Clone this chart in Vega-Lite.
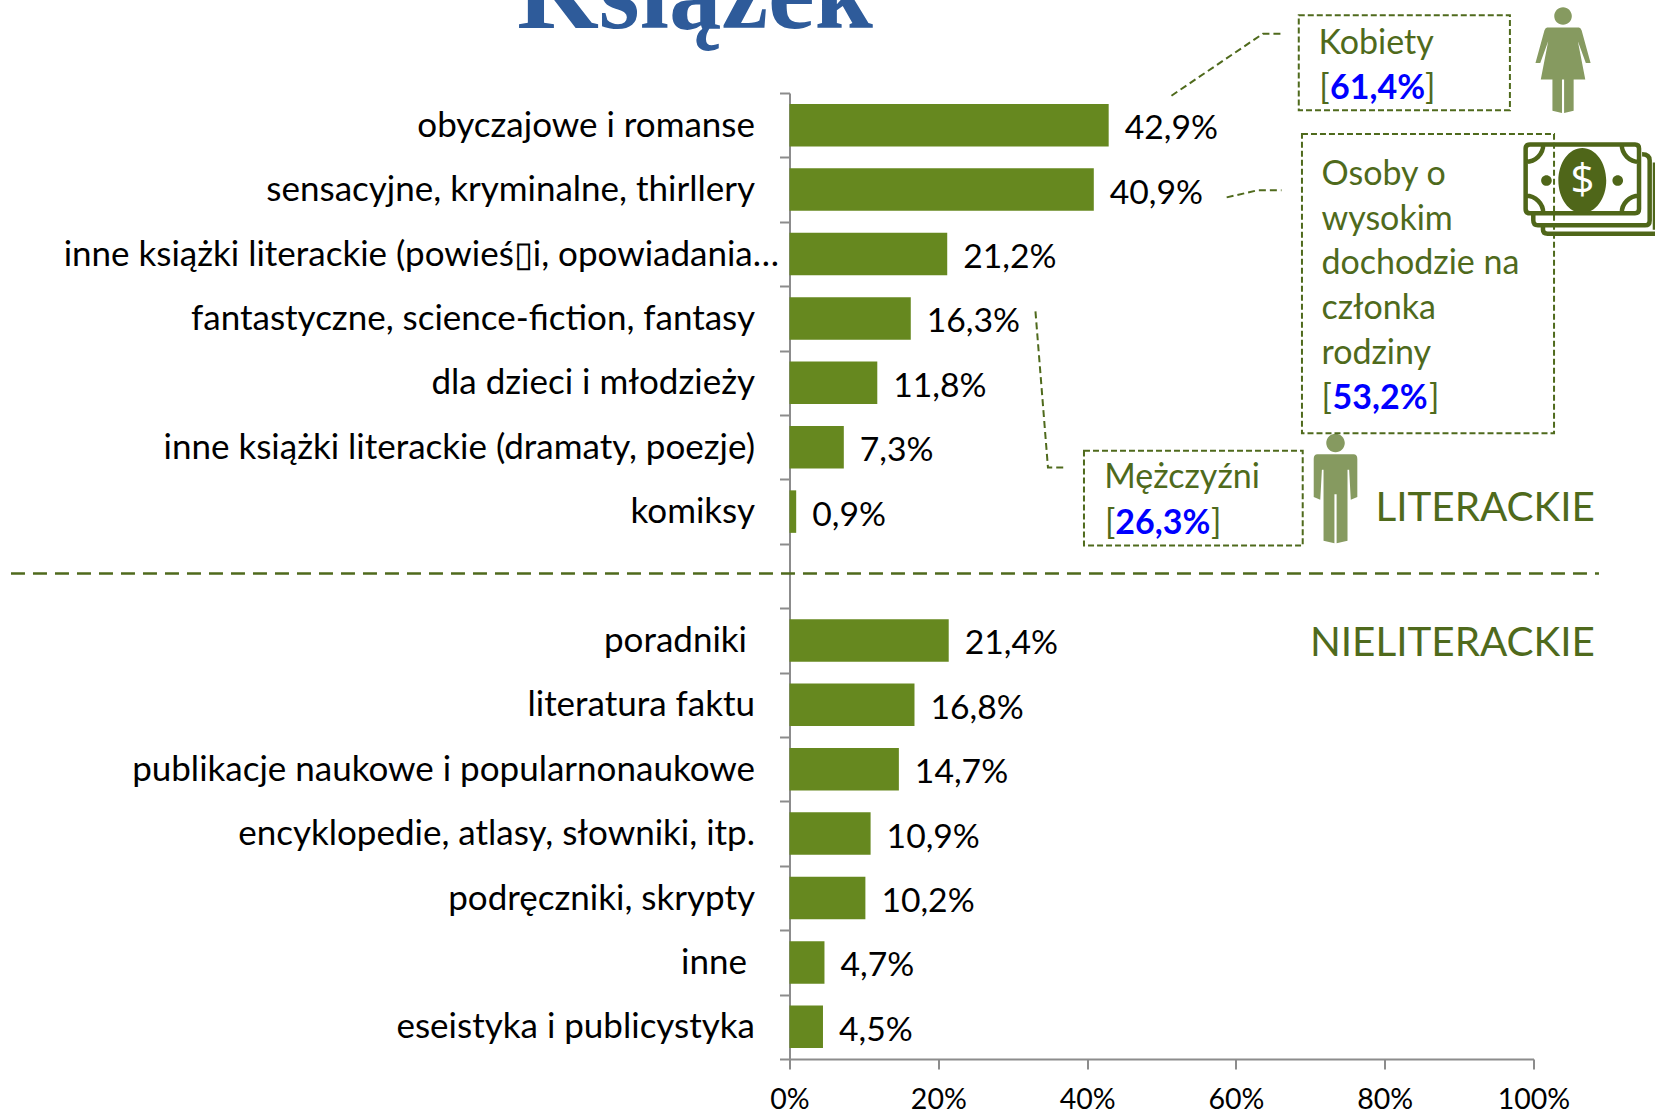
{
"$schema":"https://vega.github.io/schema/vega-lite/v6.json",
"autosize":"none",
"padding":{"left":789.5,"top":93,"right":121.5,"bottom":54},
"width":744,"height":966,
"background":"white",
"config":{"view":{"stroke":null},"text":{"font":"Lato"}},
"resolve":{"scale":{"y":"independent"}},
"layer":[
{"data":{"values":[
{"cat":"obyczajowe i romanse","value":42.9,"label":"42,9%"},
{"cat":"sensacyjne, kryminalne, thirllery","value":40.9,"label":"40,9%"},
{"cat":"inne książki literackie (powieś▯i, opowiadania…","value":21.2,"label":"21,2%"},
{"cat":"fantastyczne, science-fiction, fantasy","value":16.3,"label":"16,3%"},
{"cat":"dla dzieci i młodzieży","value":11.8,"label":"11,8%"},
{"cat":"inne książki literackie (dramaty, poezje)","value":7.3,"label":"7,3%"},
{"cat":"komiksy","value":0.9,"label":"0,9%"},
{"cat":"poradniki","value":21.4,"label":"21,4%"},
{"cat":"literatura faktu","value":16.8,"label":"16,8%"},
{"cat":"publikacje naukowe i popularnonaukowe","value":14.7,"label":"14,7%"},
{"cat":"encyklopedie, atlasy, słowniki, itp.","value":10.9,"label":"10,9%"},
{"cat":"podręczniki, skrypty","value":10.2,"label":"10,2%"},
{"cat":"inne","value":4.7,"label":"4,7%"},
{"cat":"eseistyka i publicystyka","value":4.5,"label":"4,5%"}
]},
"encoding":{
"y":{"field":"cat","type":"nominal","title":null,
"scale":{"domain":["obyczajowe i romanse","sensacyjne, kryminalne, thirllery","inne książki literackie (powieś▯i, opowiadania…","fantastyczne, science-fiction, fantasy","dla dzieci i młodzieży","inne książki literackie (dramaty, poezje)","komiksy"," ","poradniki","literatura faktu","publikacje naukowe i popularnonaukowe","encyklopedie, atlasy, słowniki, itp.","podręczniki, skrypty","inne","eseistyka i publicystyka"],"paddingInner":0,"paddingOuter":0},
"axis":{"tickBand":"extent","tickSize":10,"tickWidth":2,"tickColor":"#8C8C8C","domainColor":"#8C8C8C","domainWidth":2,"labelPadding":25,"labelFont":"Lato","labelFontSize":35,"labelColor":"black","labelLimit":800,"grid":false,
"encoding":{"labels":{"dx":{"value":{"expr":"datum.value==='poradniki'||datum.value==='inne'?-8:(datum.value==='inne książki literackie (powieś▯i, opowiadania…'?24:0)"}}}}}},
"x":{"field":"value","type":"quantitative","title":null,
"scale":{"domain":[0,100],"nice":false},
"axis":{"values":[0,20,40,60,80,100],"labelExpr":"datum.value+'%'","labelFlush":false,"tickSize":10,"tickWidth":2,"tickColor":"#8C8C8C","domainColor":"#8C8C8C","domainWidth":2,"labelPadding":16,"labelFont":"Lato","labelFontSize":28.5,"labelColor":"black","grid":false}}
},
"layer":[
{"mark":{"type":"bar","color":"#66881F","size":42.5}},
{"mark":{"type":"text","align":"left","baseline":"middle","dx":16,"dy":4,"fontSize":33.7,"color":"black"},"encoding":{"text":{"field":"label"}}}
]},
{"encoding":{
"x":{"field":"x","type":"quantitative","title":null},
"y":{"field":"y","type":"quantitative","title":null,"axis":null,"scale":{"domain":[0,15],"reverse":true,"nice":false,"zero":false}}},
"layer":[
{"data":{"values":[{"t":"Książek","x":-36.6,"y":-1.009}]},
"mark":{"type":"text","align":"left","baseline":"alphabetic","fontSize":105,"font":"Liberation Serif","fontWeight":"bold","color":"#2E5B9A"},
"encoding":{"text":{"field":"t"}}},
{"data":{"values":[{"x":-104.64,"x2":108.8,"y":7.46}]},
"mark":{"type":"rule","color":"#4F6A1C","strokeWidth":2.5,"strokeDash":[14,8]},
"encoding":{"x2":{"field":"x2"}}},
{"data":{"values":[{"x":103.97,"y":-0.514}]},
"mark":{"type":"point","filled":true,"opacity":1,"size":11236,"color":"#869A60","strokeWidth":0,"shape":"M-.166,-.827a.166,.166 0 1,0 .332,0a.166,.166 0 1,0 -.332,0ZM-.3,-.61L.3,-.61Q.33,-.61 .35,-.56L.52,.06L.43,.06L.28,-.35L.42,.37L.2,.37L.2,.96L.02,1L.02,.37L-.02,.37L-.02,1L-.2,.96L-.2,.37L-.42,.37L-.28,-.35L-.43,.06L-.52,.06L-.35,-.56Q-.33,-.61 -.3,-.61Z"}},
{"data":{"values":[{"x":73.39,"y":6.147}]},
"mark":{"type":"point","filled":true,"opacity":1,"size":11881,"color":"#869A60","strokeWidth":0,"shape":"M-.17,-.84a.17,.17 0 1,0 .34,0a.17,.17 0 1,0 -.34,0ZM-.33,-.635L.33,-.635Q.4,-.635 .4,-.55L.4,.15L.28,.2L.25,-.35L.22,-.35L.22,.95L.02,1L.02,.1L-.02,.1L-.02,1L-.22,.95L-.22,-.35L-.25,-.35L-.28,.2L-.4,.15L-.4,-.55Q-.4,-.635 -.33,-.635Z"}},
{"data":{"values":[{"x":107.39,"y":1.503}]},
"mark":{"type":"point","filled":false,"opacity":1,"size":17689,"color":"#4F6619","strokeWidth":4.5,"shape":"M-.88,-.68L.7,-.68Q.76,-.68 .76,-.62L.76,.29Q.76,.354 .7,.354L-.88,.354Q-.945,.354 -.945,.29L-.945,-.62Q-.945,-.68 -.88,-.68ZM-.68,-.68A.26,.26 0 0 1 -.945,-.42M.5,-.68A.26,.26 0 0 0 .76,-.42M-.68,.354A.26,.26 0 0 0 -.945,.09M.5,.354A.26,.26 0 0 1 .76,.09M-.83,.354L-.83,.458Q-.83,.534 -.76,.534L.85,.534Q.92,.534 .92,.46L.92,-.44Q.92,-.534 .806,-.534M-.684,.545L-.684,.6Q-.684,.66 -.615,.66L1.05,.66M1,.6L1,-.41"}},
{"data":{"values":[{"x":107.39,"y":1.503}]},
"mark":{"type":"point","filled":true,"opacity":1,"size":17689,"color":"#4F6619","strokeWidth":0,"shape":"M-.453,-.14a.36,.49 0 1,0 .72,0a.36,.49 0 1,0 -.72,0ZM-.712,-.14a.08,.08 0 1,0 .16,0a.08,.08 0 1,0 -.16,0ZM.36,-.14a.08,.08 0 1,0 .16,0a.08,.08 0 1,0 -.16,0Z"}},
{"data":{"values":[{"t":"$","x":106.57,"y":1.367}]},
"mark":{"type":"text","align":"center","baseline":"middle","fontSize":42,"font":"Open Sans","color":"white"},
"encoding":{"text":{"field":"t"}}},
{"data":{"values":[
{"x":68.45,"x2":96.83,"y":-1.207,"y2":0.267},
{"x":68.88,"x2":102.76,"y":0.635,"y2":5.284},
{"x":39.58,"x2":68.98,"y":5.557,"y2":7.026}]},
"mark":{"type":"rect","fillOpacity":0,"stroke":"#4F6A1C","strokeWidth":2,"strokeDash":[6,3]},
"encoding":{"x2":{"field":"x2"},"y2":{"field":"y2"}}},
{"data":{"values":[
{"g":"k","o":1,"x":51.34,"y":0.042},{"g":"k","o":2,"x":63.64,"y":-0.921},{"g":"k","o":3,"x":66.13,"y":-0.921},
{"g":"o","o":1,"x":58.76,"y":1.621},{"g":"o","o":2,"x":62.97,"y":1.509},{"g":"o","o":3,"x":66.13,"y":1.509},
{"g":"m","o":1,"x":33.06,"y":3.391},{"g":"m","o":2,"x":34.74,"y":5.817},{"g":"m","o":3,"x":37.3,"y":5.817}]},
"mark":{"type":"line","color":"#4F6A1C","strokeWidth":2,"strokeDash":[7,4]},
"encoding":{"detail":{"field":"g"},"order":{"field":"o"}}},
{"data":{"values":[
{"t":"Kobiety","x":71.1,"y":-0.6},{"t":"[","x":71.2,"y":0.1},{"t":"]","x":85.42,"y":0.1},
{"t":"Osoby o","x":71.5,"y":1.421},{"t":"wysokim","x":71.5,"y":2.121},{"t":"dochodzie na","x":71.5,"y":2.804},{"t":"członka","x":71.5,"y":3.506},{"t":"rodziny","x":71.5,"y":4.202},{"t":"[","x":71.5,"y":4.9},{"t":"]","x":85.95,"y":4.9},
{"t":"Mężczyźni","x":42.3,"y":6.132},{"t":"[","x":42.4,"y":6.85},{"t":"]","x":56.65,"y":6.85}]},
"mark":{"type":"text","align":"left","baseline":"alphabetic","fontSize":34,"color":"#4F6A1C"},
"encoding":{"text":{"field":"t"}}},
{"data":{"values":[
{"t":"61,4%","x":72.65,"y":0.1},{"t":"53,2%","x":73.0,"y":4.9},{"t":"26,3%","x":43.8,"y":6.85}]},
"mark":{"type":"text","align":"left","baseline":"alphabetic","fontSize":34,"fontWeight":"bold","color":"#0000FF"},
"encoding":{"text":{"field":"t"}}},
{"data":{"values":[
{"t":"LITERACKIE","x":78.75,"y":6.649},{"t":"NIELITERACKIE","x":69.95,"y":8.74}]},
"mark":{"type":"text","align":"left","baseline":"alphabetic","fontSize":40.4,"color":"#4F6A1C"},
"encoding":{"text":{"field":"t"}}}
]}
]
}
